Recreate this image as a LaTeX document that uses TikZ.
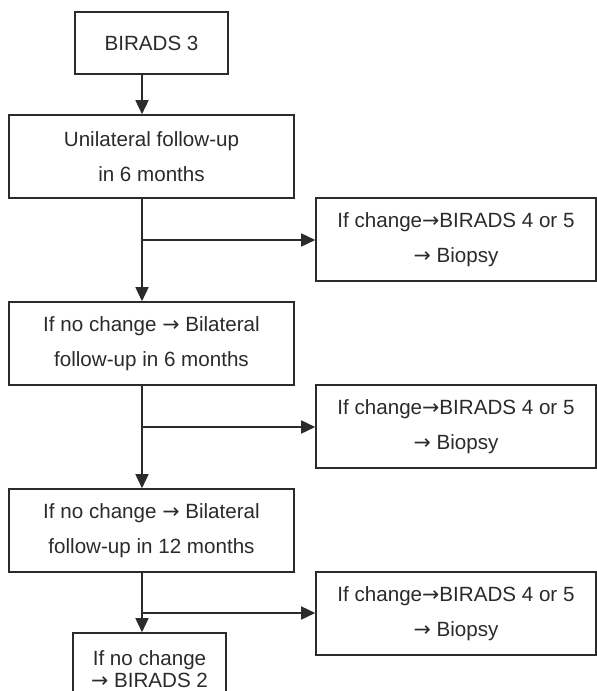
\documentclass[tikz,border=0pt]{standalone}
\usepackage{fontspec}
\setmainfont{Liberation Sans}
\newfontfamily\arrowfont{DejaVu Sans}
\newcommand{\rarr}{{\arrowfont →}}
\usetikzlibrary{arrows.meta}
\definecolor{ink}{HTML}{2B2B2B}
\tikzset{
  box/.style={draw=ink, line width=1.6pt, text=ink, align=center, inner sep=0pt,
    font=\fontsize{20.6}{35}\selectfont},
  conn/.style={draw=ink, line width=1.6pt},
  arr/.style={conn, -{Triangle[length=14pt,width=13pt]}},
}
\begin{document}
\begin{tikzpicture}[x=1pt,y=-1pt]
\useasboundingbox[fill=white] (0,0) rectangle (597,691);
\node[box, minimum width=153pt, minimum height=62pt] (b1) at (151.5,43) {BIRADS 3};
\node[box, minimum width=285pt, minimum height=83pt] (b2) at (151.5,156.5) {Unilateral follow-up\\in 6 months};
\node[box, minimum width=280pt, minimum height=83pt] (r1) at (456,239.5) {If change\rarr BIRADS 4 or 5\\\rarr\ Biopsy};
\node[box, minimum width=285pt, minimum height=83pt] (b3) at (151.5,343.5) {If no change \rarr\ Bilateral\\follow-up in 6 months};
\node[box, minimum width=280pt, minimum height=83pt] (r2) at (456,426.5) {If change\rarr BIRADS 4 or 5\\\rarr\ Biopsy};
\node[box, minimum width=285pt, minimum height=83pt] (b4) at (151.5,530.5) {If no change \rarr\ Bilateral\\follow-up in 12 months};
\node[box, minimum width=280pt, minimum height=83pt] (r3) at (456,613.5) {If change\rarr BIRADS 4 or 5\\\rarr\ Biopsy};
\node[box, minimum width=153pt, minimum height=72pt, font=\fontsize{20.6}{22}\selectfont] (b5) at (149.5,669) {If no change\\\rarr\ BIRADS 2};
% trunk coordinates
\coordinate (t1) at (142,74);
\coordinate (t2) at (142,198);
\coordinate (j1) at (142,240);
\coordinate (t3) at (142,385);
\coordinate (j2) at (142,427);
\coordinate (t4) at (142,572);
\coordinate (j3) at (142,613);
\draw[arr] (t1) -- (t1 |- b2.north);
\draw[arr] (t2) -- (t2 |- b3.north);
\draw[arr] (j1) -- (j1 -| r1.west);
\draw[arr] (t3) -- (t3 |- b4.north);
\draw[arr] (j2) -- (j2 -| r2.west);
\draw[arr] (t4) -- (t4 |- b5.north);
\draw[arr] (j3) -- (j3 -| r3.west);
\end{tikzpicture}
\end{document}
